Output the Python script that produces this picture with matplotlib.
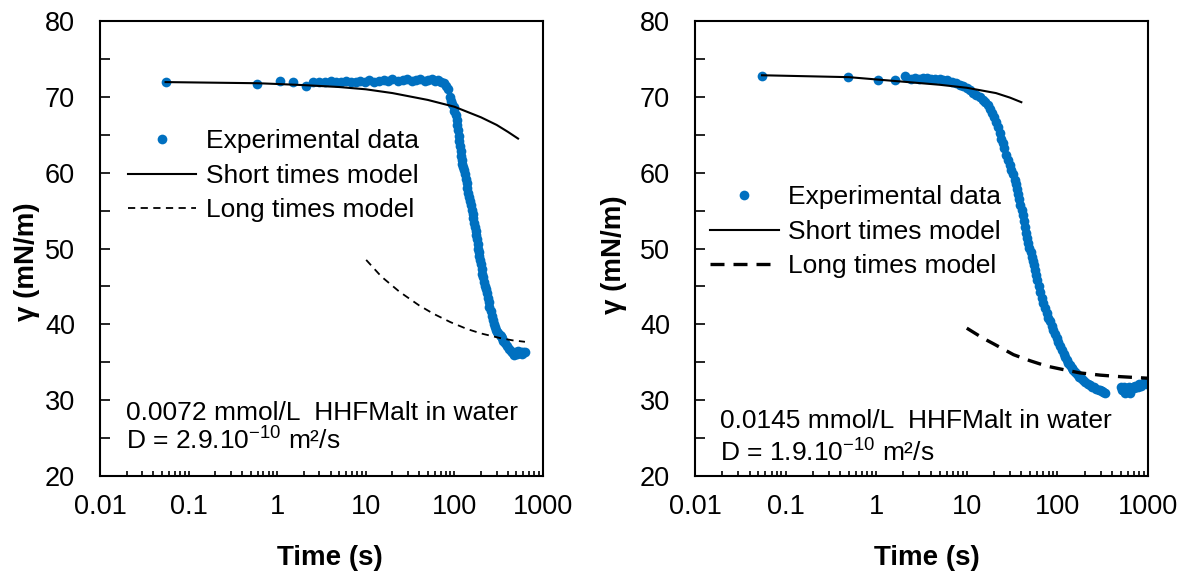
import numpy as np
import matplotlib
matplotlib.use('Agg')
import matplotlib.pyplot as plt
from matplotlib.ticker import LogLocator, MultipleLocator, FixedLocator, FixedFormatter, NullFormatter

# 字体设置
plt.rcParams['font.family'] = ['Liberation Sans', 'DejaVu Sans']
plt.rcParams['mathtext.fontset'] = 'custom'
plt.rcParams['mathtext.rm'] = 'Liberation Sans'
plt.rcParams['mathtext.default'] = 'regular'

blue = '#0070C0'

# 坐标刻度
x_ticks = [0.01, 0.1, 1, 10, 100, 1000]
x_tick_labels = ['0.01', '0.1', '1', '10', '100', '1000']
y_ticks = [20, 30, 40, 50, 60, 70, 80]

# 左图: 0.0072 mmol/L 实验数据
t_exp_1 = [0.056, 0.59, 1.09, 1.52, 2.1, 2.55, 3.0, 3.5, 4.0, 4.6, 5.2, 6.0, 6.8, 7.7, 8.7, 9.8,
           11, 12.5, 14, 16, 18, 20, 23, 26, 29, 33, 37, 41, 46, 51, 56, 61, 66, 71, 76, 81, 85,
           89, 92, 95, 98, 100, 103, 106, 108, 110, 112, 114, 116, 118, 120, 121, 123, 126, 128,
           131, 134, 137, 140, 144, 147, 150, 154, 157, 161, 164, 168, 171, 174, 177, 180, 183,
           186, 189, 192, 194, 198, 203, 207, 212, 216, 221, 226, 231, 237, 243, 249, 256, 263,
           271, 279, 287, 296, 305, 314, 323, 332, 342, 357, 372, 390, 410, 430, 445, 458, 475,
           490, 505, 520, 540, 560, 580, 600, 620]
g_exp_1 = [72.0, 71.7, 72.1, 71.9, 71.45, 71.9, 72.0, 71.9, 72.1, 71.9, 72.0, 72.1, 71.9, 72.0,
           72.1, 72.0, 72.2, 72.0, 72.1, 72.2, 72.1, 72.3, 72.1, 72.2, 72.3, 72.1, 72.2, 72.3,
           72.1, 72.2, 72.3, 72.1, 72.2, 72.0, 71.8, 71.5, 71.0, 70.0, 69.5, 69.0, 68.6, 68.2,
           67.6, 67.0, 66.3, 65.6, 64.9, 64.2, 63.5, 62.8, 62.2, 61.7, 61.2, 60.8, 60.3, 59.8,
           59.2, 58.6, 58.0, 57.3, 56.8, 56.3, 55.7, 55.1, 54.5, 54.0, 53.4, 52.9, 52.3, 51.8,
           51.2, 50.6, 50.0, 49.5, 49.0, 48.5, 47.9, 47.3, 46.7, 46.2, 45.6, 45.1, 44.6, 44.1,
           43.5, 42.9, 42.3, 41.7, 41.1, 40.6, 40.1, 39.7, 39.3, 39.0, 38.8, 38.6, 38.4, 38.2,
           37.8, 37.5, 37.1, 36.8, 36.5, 36.3, 36.2, 36.0, 36.3, 36.1, 36.5, 36.2, 36.4, 36.1,
           36.4, 36.3]

# 左图: 短时间模型与长时间模型
t_short_1 = [0.055, 0.6, 1, 2, 5, 10, 20, 50, 100, 200, 300, 400, 523]
g_short_1 = [71.95, 71.8, 71.7, 71.55, 71.3, 71.0, 70.5, 69.6, 68.7, 67.3, 66.3, 65.4, 64.5]
t_long_1 = [10.1, 15, 24, 40, 58, 90, 138, 200, 327, 450, 626]
g_long_1 = [48.5, 46.3, 44.3, 42.5, 41.4, 40.3, 39.4, 38.8, 38.2, 37.9, 37.7]

# 右图: 0.0145 mmol/L 实验数据
t_exp_2 = [0.055, 0.49, 1.05, 1.61, 2.08, 2.4, 2.68, 3.0, 3.3, 3.6, 4.0, 4.5, 5.0, 5.5, 6.1,
           6.8, 7.7, 8.4, 9.1, 10.0, 10.8, 11.8, 12.8, 14, 15, 16, 17, 18, 19, 20, 21, 22, 23,
           24, 25, 26, 27.3, 28.7, 30, 31, 32.5, 34, 35, 36, 37, 38, 39, 40.3, 41.3, 42.5, 43.8,
           45, 46.3, 47.7, 49, 50.5, 52, 53.5, 55, 56.6, 58.3, 60, 62.5, 65, 67.5, 70, 73, 76,
           79.5, 83, 86.5, 90, 94, 98, 102, 107, 112, 117, 122, 127, 132, 138, 144, 150, 157,
           165, 173, 182, 192, 202, 215, 229, 242, 255, 270, 285, 297, 310, 322, 335,
           500, 515, 530, 545, 560, 580, 600, 615, 631, 655, 680, 700, 720, 745, 770, 790, 813,
           840, 870, 900, 930, 965, 1000]
g_exp_2 = [72.8, 72.6, 72.2, 72.2, 72.7, 72.4, 72.5, 72.4, 72.5, 72.5, 72.4, 72.3, 72.3, 72.2,
           72.2, 72.0, 71.8, 71.6, 71.5, 71.2, 70.9, 70.5, 70.3, 70.0, 69.6, 69.3, 68.9, 68.4,
           67.9, 67.3, 66.7, 66.0, 65.3, 64.5, 63.9, 63.2, 62.4, 61.7, 61.0, 60.4, 59.8, 59.1,
           58.5, 57.8, 57.2, 56.5, 55.8, 55.1, 54.4, 53.6, 52.9, 52.1, 51.4, 50.7, 50.1, 49.5,
           48.9, 48.3, 47.8, 47.2, 46.5, 45.8, 45.1, 44.3, 43.5, 42.8, 42.1, 41.5, 40.9, 40.4,
           39.8, 39.3, 38.7, 38.2, 37.7, 37.1, 36.6, 36.1, 35.7, 35.3, 34.9, 34.6, 34.3, 34.0,
           33.7, 33.4, 33.1, 32.9, 32.6, 32.4, 32.2, 32.0, 31.8, 31.7, 31.5, 31.4, 31.3, 31.2,
           31.1, 31.0,
           31.8, 31.3, 31.4, 31.7, 31.0, 31.6, 31.3, 31.7, 31.0, 31.5, 31.8, 31.6, 31.9, 31.7,
           31.8, 32.1, 32.0, 31.9, 32.1, 32.3, 32.4, 32.2, 32.3]

# 右图: 短时间模型与长时间模型
t_short_2 = [0.055, 0.5, 1, 2, 5, 10, 21, 30, 40]
g_short_2 = [72.85, 72.6, 72.3, 72.0, 71.6, 71.2, 70.5, 69.9, 69.3]
t_long_2 = [10, 15, 20, 32.8, 50, 76, 120, 177, 300, 500, 990]
g_long_2 = [39.5, 38.2, 37.4, 36.0, 35.2, 34.5, 34.0, 33.6, 33.3, 33.1, 32.9]


def draw_panel(ax, t_exp, g_exp, t_short, g_short, t_long, g_long,
               long_lw, long_dash, legend_pos, note_lines, note_pos):
    ax.plot(t_exp, g_exp, 'o', color=blue, markersize=7, markeredgewidth=0,
            label='Experimental data', zorder=2)
    ax.plot(t_short, g_short, '-', color='black', lw=1.5, label='Short times model', zorder=3)
    ax.plot(t_long, g_long, '--', color='black', lw=long_lw, dashes=long_dash,
            label='Long times model', zorder=3)

    ax.set_xscale('log')
    ax.set_xlim(0.01, 1000)
    ax.set_ylim(20, 80)

    # 刻度
    ax.xaxis.set_major_locator(FixedLocator(x_ticks))
    ax.xaxis.set_major_formatter(FixedFormatter(x_tick_labels))
    ax.xaxis.set_minor_locator(LogLocator(base=10, subs=np.arange(2, 10), numticks=20))
    ax.xaxis.set_minor_formatter(NullFormatter())
    ax.yaxis.set_major_locator(FixedLocator(y_ticks))
    ax.yaxis.set_minor_locator(MultipleLocator(5))
    ax.tick_params(axis='x', which='both', direction='in', length=3.5, width=1.2,
                   labelsize=19.5, pad=13, top=False)
    ax.tick_params(axis='y', which='both', direction='in', length=7, width=1.2,
                   labelsize=19.5, pad=18, right=False)
    for s in ax.spines.values():
        s.set_linewidth(1.5)

    ax.set_xlabel('Time (s)', fontsize=20, fontweight='bold')
    ax.set_ylabel('γ (mN/m)', fontsize=20, fontweight='bold')

    ax.legend(loc='upper left', bbox_to_anchor=legend_pos, frameon=False,
              fontsize=19, borderpad=0, borderaxespad=0, handlelength=2.6,
              handletextpad=0.35, labelspacing=0.4)

    for (txt, y) in zip(note_lines, note_pos[1]):
        ax.text(note_pos[0], y, txt, transform=ax.transAxes, fontsize=19,
                va='center', ha='left')


fig = plt.figure(figsize=(11.9, 5.83), dpi=100)
ax1 = fig.add_axes([0.0840, 0.1835, 0.3723, 0.7804])
ax2 = fig.add_axes([0.5840, 0.1835, 0.3807, 0.7804])

draw_panel(ax1, t_exp_1, g_exp_1, t_short_1, g_short_1, t_long_1, g_long_1,
           1.3, (4, 3), (0.063, 0.762),
           ['0.0072 mmol/L  HHFMalt in water', 'D = 2.9.$10^{-10}$ m²/s'],
           (0.059, [0.138, 0.076]))
draw_panel(ax2, t_exp_2, g_exp_2, t_short_2, g_short_2, t_long_2, g_long_2,
           2.4, (4.2, 2.7), (0.033, 0.639),
           ['0.0145 mmol/L  HHFMalt in water', 'D = 1.9.$10^{-10}$ m²/s'],
           (0.055, [0.120, 0.050]))

ax1.xaxis.set_label_coords(0.519, -0.152)
ax1.yaxis.set_label_coords(-0.135, 0.47)
ax2.xaxis.set_label_coords(0.512, -0.152)
ax2.yaxis.set_label_coords(-0.150, 0.486)

fig.savefig('out.png', dpi=100)
